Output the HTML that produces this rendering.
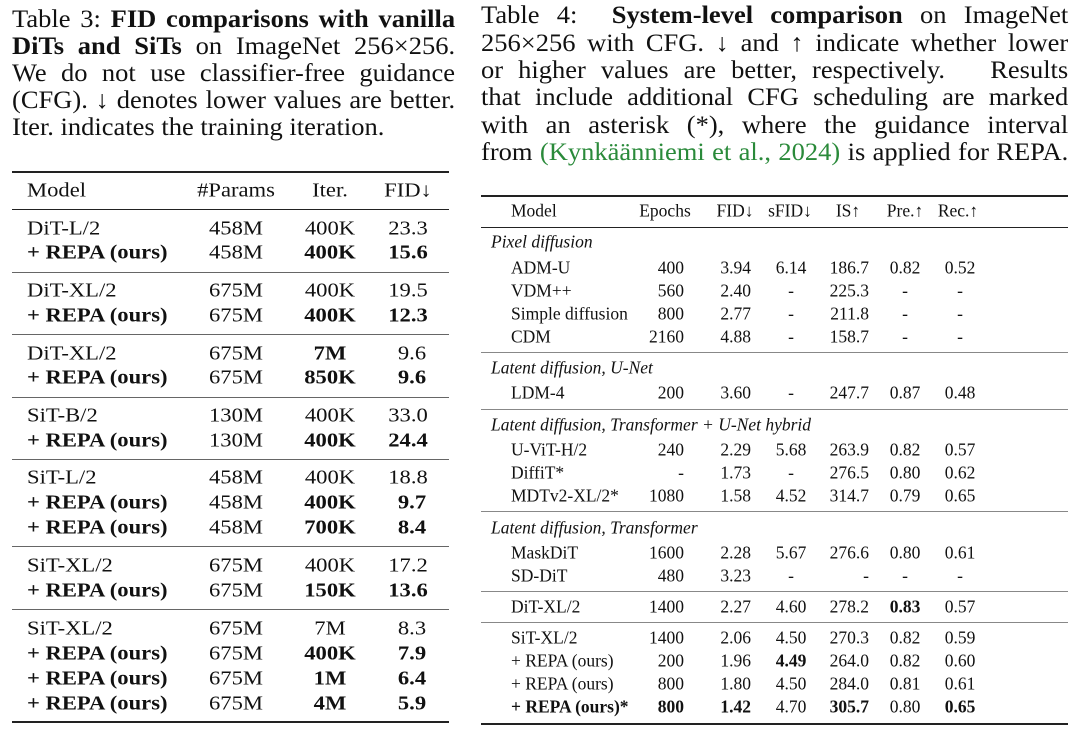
<!DOCTYPE html>
<html><head><meta charset="utf-8"><style>
body{margin:0;width:1080px;height:733px;background:#fff;position:relative;overflow:hidden;font-family:"Liberation Serif",serif;color:#111}
.capbox{position:absolute;transform:scaleX(1.06);transform-origin:0 0}
.ln{position:absolute;left:0;white-space:nowrap;text-align:justify;text-align-last:justify}
.cap{font-size:25px;line-height:27px}
.t{position:absolute;white-space:nowrap;transform:translate(-50%,-50%)}
.l{position:absolute;white-space:nowrap;transform:translateY(-50%)}
.r{position:absolute;white-space:nowrap;transform:translate(-100%,-50%)}
.A{font-size:20px}.B{font-size:17.5px}
.A .t{transform:translate(-50%,-50%) scaleX(1.13)}
.A .l{transform:translateY(-50%) scaleX(1.13);transform-origin:0 50%}
.h{position:absolute;background:#222}
b{font-weight:bold}
.g{color:#2a8a3a}
</style></head><body>
<!-- Left caption -->
<div class="capbox cap" style="left:12px;top:6px;width:418px">
<div class="ln" style="top:0;width:418px">Table 3: <b>FID comparisons with vanilla</b></div>
<div class="ln" style="top:27px;width:418px"><b>DiTs and SiTs</b> on ImageNet 256×256.</div>
<div class="ln" style="top:54px;width:418px">We do not use classifier-free guidance</div>
<div class="ln" style="top:81px;width:418px">(CFG). ↓ denotes lower values are better.</div>
<div class="ln" style="top:108px;text-align-last:left">Iter. indicates the training iteration.</div>
</div>
<!-- Left table rules -->
<div class="h" style="left:12px;width:437px;top:171px;height:2px"></div>
<div class="h" style="left:12px;width:437px;top:209px;height:1px"></div>
<div class="h" style="left:12px;width:437px;top:272px;height:1px;background:#666"></div>
<div class="h" style="left:12px;width:437px;top:334px;height:1px;background:#666"></div>
<div class="h" style="left:12px;width:437px;top:397px;height:1px;background:#666"></div>
<div class="h" style="left:12px;width:437px;top:459px;height:1px;background:#666"></div>
<div class="h" style="left:12px;width:437px;top:546px;height:1px;background:#666"></div>
<div class="h" style="left:12px;width:437px;top:609px;height:1px;background:#666"></div>
<div class="h" style="left:12px;width:437px;top:721px;height:2px"></div>
<div class="A">
<div class="l" style="left:27px;top:191px">Model</div><div class="t" style="left:236px;top:191px">#Params</div><div class="t" style="left:330px;top:191px">Iter.</div><div class="t" style="left:408px;top:191px">FID↓</div>
<div class="l" style="left:27px;top:229px">DiT-L/2</div><div class="t" style="left:236px;top:229px">458M</div><div class="t" style="left:330px;top:229px">400K</div><div class="t" style="left:408px;top:229px">23.3</div>
<div class="l" style="left:27px;top:253px"><b>+ REPA (ours)</b></div><div class="t" style="left:236px;top:253px">458M</div><div class="t" style="left:330px;top:253px"><b>400K</b></div><div class="t" style="left:408px;top:253px"><b>15.6</b></div>
<div class="l" style="left:27px;top:291px">DiT-XL/2</div><div class="t" style="left:236px;top:291px">675M</div><div class="t" style="left:330px;top:291px">400K</div><div class="t" style="left:408px;top:291px">19.5</div>
<div class="l" style="left:27px;top:316px"><b>+ REPA (ours)</b></div><div class="t" style="left:236px;top:316px">675M</div><div class="t" style="left:330px;top:316px"><b>400K</b></div><div class="t" style="left:408px;top:316px"><b>12.3</b></div>
<div class="l" style="left:27px;top:354px">DiT-XL/2</div><div class="t" style="left:236px;top:354px">675M</div><div class="t" style="left:330px;top:354px"><b>7M</b></div><div class="t" style="left:412px;top:354px">9.6</div>
<div class="l" style="left:27px;top:378px"><b>+ REPA (ours)</b></div><div class="t" style="left:236px;top:378px">675M</div><div class="t" style="left:330px;top:378px"><b>850K</b></div><div class="t" style="left:412px;top:378px"><b>9.6</b></div>
<div class="l" style="left:27px;top:416px">SiT-B/2</div><div class="t" style="left:236px;top:416px">130M</div><div class="t" style="left:330px;top:416px">400K</div><div class="t" style="left:408px;top:416px">33.0</div>
<div class="l" style="left:27px;top:441px"><b>+ REPA (ours)</b></div><div class="t" style="left:236px;top:441px">130M</div><div class="t" style="left:330px;top:441px"><b>400K</b></div><div class="t" style="left:408px;top:441px"><b>24.4</b></div>
<div class="l" style="left:27px;top:478px">SiT-L/2</div><div class="t" style="left:236px;top:478px">458M</div><div class="t" style="left:330px;top:478px">400K</div><div class="t" style="left:408px;top:478px">18.8</div>
<div class="l" style="left:27px;top:503px"><b>+ REPA (ours)</b></div><div class="t" style="left:236px;top:503px">458M</div><div class="t" style="left:330px;top:503px"><b>400K</b></div><div class="t" style="left:412px;top:503px"><b>9.7</b></div>
<div class="l" style="left:27px;top:528px"><b>+ REPA (ours)</b></div><div class="t" style="left:236px;top:528px">458M</div><div class="t" style="left:330px;top:528px"><b>700K</b></div><div class="t" style="left:412px;top:528px"><b>8.4</b></div>
<div class="l" style="left:27px;top:566px">SiT-XL/2</div><div class="t" style="left:236px;top:566px">675M</div><div class="t" style="left:330px;top:566px">400K</div><div class="t" style="left:408px;top:566px">17.2</div>
<div class="l" style="left:27px;top:591px"><b>+ REPA (ours)</b></div><div class="t" style="left:236px;top:591px">675M</div><div class="t" style="left:330px;top:591px"><b>150K</b></div><div class="t" style="left:408px;top:591px"><b>13.6</b></div>
<div class="l" style="left:27px;top:629px">SiT-XL/2</div><div class="t" style="left:236px;top:629px">675M</div><div class="t" style="left:330px;top:629px">7M</div><div class="t" style="left:412px;top:629px">8.3</div>
<div class="l" style="left:27px;top:654px"><b>+ REPA (ours)</b></div><div class="t" style="left:236px;top:654px">675M</div><div class="t" style="left:330px;top:654px"><b>400K</b></div><div class="t" style="left:412px;top:654px"><b>7.9</b></div>
<div class="l" style="left:27px;top:679px"><b>+ REPA (ours)</b></div><div class="t" style="left:236px;top:679px">675M</div><div class="t" style="left:330px;top:679px"><b>1M</b></div><div class="t" style="left:412px;top:679px"><b>6.4</b></div>
<div class="l" style="left:27px;top:704px"><b>+ REPA (ours)</b></div><div class="t" style="left:236px;top:704px">675M</div><div class="t" style="left:330px;top:704px"><b>4M</b></div><div class="t" style="left:412px;top:704px"><b>5.9</b></div>
</div>
<!-- Right caption -->
<div class="capbox cap" style="left:481px;top:2px;width:554px">
<div class="ln" style="top:0;width:554px">Table 4: &nbsp;<b>System-level comparison</b> on ImageNet</div>
<div class="ln" style="top:28px;width:554px">256×256 with CFG. ↓ and ↑ indicate whether lower</div>
<div class="ln" style="top:55px;width:554px">or higher values are better, respectively. &nbsp;&nbsp;Results</div>
<div class="ln" style="top:82px;width:554px">that include additional CFG scheduling are marked</div>
<div class="ln" style="top:110px;width:554px">with an asterisk (*), where the guidance interval</div>
<div class="ln" style="top:137px;width:554px">from <span class="g">(Kynkäänniemi et al., 2024)</span> is applied for REPA.</div>
</div>
<!-- Right rules -->
<div class="h" style="left:481px;width:587px;top:195px;height:2px"></div>
<div class="h" style="left:481px;width:587px;top:227px;height:1px"></div>
<div class="h" style="left:481px;width:587px;top:352px;height:1px;background:#888"></div>
<div class="h" style="left:481px;width:587px;top:409px;height:1px;background:#888"></div>
<div class="h" style="left:481px;width:587px;top:511px;height:1px;background:#888"></div>
<div class="h" style="left:481px;width:587px;top:591px;height:1px;background:#888"></div>
<div class="h" style="left:481px;width:587px;top:622px;height:1px;background:#888"></div>
<div class="h" style="left:481px;width:587px;top:723px;height:2px"></div>
<div class="B">
<div class="l" style="left:511px;top:211px">Model</div><div class="t" style="left:665px;top:211px">Epochs</div><div class="t" style="left:735px;top:211px">FID↓</div><div class="t" style="left:790px;top:211px">sFID↓</div><div class="t" style="left:848px;top:211px">IS↑</div><div class="t" style="left:905px;top:211px">Pre.↑</div><div class="t" style="left:958px;top:211px">Rec.↑</div>
<div class="l" style="left:491px;top:242px"><i>Pixel diffusion</i></div>
<div class="l" style="left:491px;top:368px"><i>Latent diffusion, U-Net</i></div>
<div class="l" style="left:491px;top:425px"><i>Latent diffusion, Transformer + U-Net hybrid</i></div>
<div class="l" style="left:491px;top:528px"><i>Latent diffusion, Transformer</i></div>
<div class="l" style="left:511px;top:268px">ADM-U</div><div class="r" style="left:684px;top:268px">400</div><div class="r" style="left:751px;top:268px">3.94</div><div class="t" style="left:791px;top:268px">6.14</div><div class="r" style="left:869px;top:268px">186.7</div><div class="t" style="left:905px;top:268px">0.82</div><div class="t" style="left:960px;top:268px">0.52</div>
<div class="l" style="left:511px;top:291px">VDM++</div><div class="r" style="left:684px;top:291px">560</div><div class="r" style="left:751px;top:291px">2.40</div><div class="t" style="left:791px;top:291px">-</div><div class="r" style="left:869px;top:291px">225.3</div><div class="t" style="left:905px;top:291px">-</div><div class="t" style="left:960px;top:291px">-</div>
<div class="l" style="left:511px;top:314px">Simple diffusion</div><div class="r" style="left:684px;top:314px">800</div><div class="r" style="left:751px;top:314px">2.77</div><div class="t" style="left:791px;top:314px">-</div><div class="r" style="left:869px;top:314px">211.8</div><div class="t" style="left:905px;top:314px">-</div><div class="t" style="left:960px;top:314px">-</div>
<div class="l" style="left:511px;top:337px">CDM</div><div class="r" style="left:684px;top:337px">2160</div><div class="r" style="left:751px;top:337px">4.88</div><div class="t" style="left:791px;top:337px">-</div><div class="r" style="left:869px;top:337px">158.7</div><div class="t" style="left:905px;top:337px">-</div><div class="t" style="left:960px;top:337px">-</div>
<div class="l" style="left:511px;top:393px">LDM-4</div><div class="r" style="left:684px;top:393px">200</div><div class="r" style="left:751px;top:393px">3.60</div><div class="t" style="left:791px;top:393px">-</div><div class="r" style="left:869px;top:393px">247.7</div><div class="t" style="left:905px;top:393px">0.87</div><div class="t" style="left:960px;top:393px">0.48</div>
<div class="l" style="left:511px;top:450px">U-ViT-H/2</div><div class="r" style="left:684px;top:450px">240</div><div class="r" style="left:751px;top:450px">2.29</div><div class="t" style="left:791px;top:450px">5.68</div><div class="r" style="left:869px;top:450px">263.9</div><div class="t" style="left:905px;top:450px">0.82</div><div class="t" style="left:960px;top:450px">0.57</div>
<div class="l" style="left:511px;top:473px">DiffiT*</div><div class="r" style="left:684px;top:473px">-</div><div class="r" style="left:751px;top:473px">1.73</div><div class="t" style="left:791px;top:473px">-</div><div class="r" style="left:869px;top:473px">276.5</div><div class="t" style="left:905px;top:473px">0.80</div><div class="t" style="left:960px;top:473px">0.62</div>
<div class="l" style="left:511px;top:496px">MDTv2-XL/2*</div><div class="r" style="left:684px;top:496px">1080</div><div class="r" style="left:751px;top:496px">1.58</div><div class="t" style="left:791px;top:496px">4.52</div><div class="r" style="left:869px;top:496px">314.7</div><div class="t" style="left:905px;top:496px">0.79</div><div class="t" style="left:960px;top:496px">0.65</div>
<div class="l" style="left:511px;top:553px">MaskDiT</div><div class="r" style="left:684px;top:553px">1600</div><div class="r" style="left:751px;top:553px">2.28</div><div class="t" style="left:791px;top:553px">5.67</div><div class="r" style="left:869px;top:553px">276.6</div><div class="t" style="left:905px;top:553px">0.80</div><div class="t" style="left:960px;top:553px">0.61</div>
<div class="l" style="left:511px;top:576px">SD-DiT</div><div class="r" style="left:684px;top:576px">480</div><div class="r" style="left:751px;top:576px">3.23</div><div class="t" style="left:791px;top:576px">-</div><div class="r" style="left:869px;top:576px">-</div><div class="t" style="left:905px;top:576px">-</div><div class="t" style="left:960px;top:576px">-</div>
<div class="l" style="left:511px;top:607px">DiT-XL/2</div><div class="r" style="left:684px;top:607px">1400</div><div class="r" style="left:751px;top:607px">2.27</div><div class="t" style="left:791px;top:607px">4.60</div><div class="r" style="left:869px;top:607px">278.2</div><div class="t" style="left:905px;top:607px"><b>0.83</b></div><div class="t" style="left:960px;top:607px">0.57</div>
<div class="l" style="left:511px;top:638px">SiT-XL/2</div><div class="r" style="left:684px;top:638px">1400</div><div class="r" style="left:751px;top:638px">2.06</div><div class="t" style="left:791px;top:638px">4.50</div><div class="r" style="left:869px;top:638px">270.3</div><div class="t" style="left:905px;top:638px">0.82</div><div class="t" style="left:960px;top:638px">0.59</div>
<div class="l" style="left:511px;top:661px">+ REPA (ours)</div><div class="r" style="left:684px;top:661px">200</div><div class="r" style="left:751px;top:661px">1.96</div><div class="t" style="left:791px;top:661px"><b>4.49</b></div><div class="r" style="left:869px;top:661px">264.0</div><div class="t" style="left:905px;top:661px">0.82</div><div class="t" style="left:960px;top:661px">0.60</div>
<div class="l" style="left:511px;top:684px">+ REPA (ours)</div><div class="r" style="left:684px;top:684px">800</div><div class="r" style="left:751px;top:684px">1.80</div><div class="t" style="left:791px;top:684px">4.50</div><div class="r" style="left:869px;top:684px">284.0</div><div class="t" style="left:905px;top:684px">0.81</div><div class="t" style="left:960px;top:684px">0.61</div>
<div class="l" style="left:511px;top:707px"><b>+ REPA (ours)*</b></div><div class="r" style="left:684px;top:707px"><b>800</b></div><div class="r" style="left:751px;top:707px"><b>1.42</b></div><div class="t" style="left:791px;top:707px">4.70</div><div class="r" style="left:869px;top:707px"><b>305.7</b></div><div class="t" style="left:905px;top:707px">0.80</div><div class="t" style="left:960px;top:707px"><b>0.65</b></div>
</div>
</body></html>
